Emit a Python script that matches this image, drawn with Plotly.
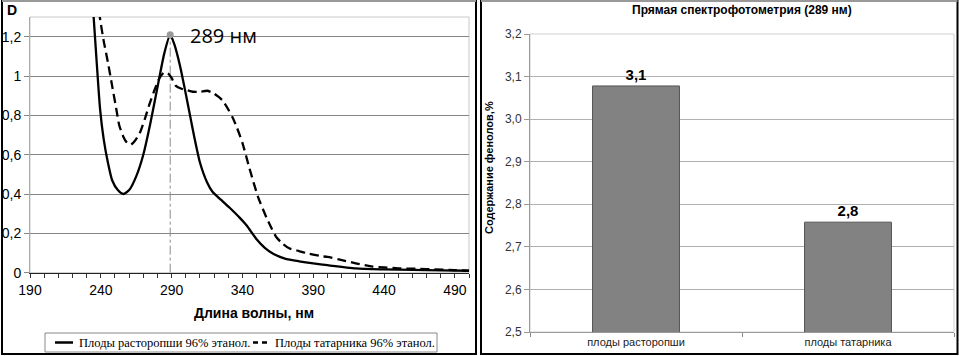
import plotly.graph_objects as go

W, H = 959, 356

# ---------------- data ----------------
wl_milk = [234, 237, 239.5, 242, 245, 248, 252, 256, 260, 265, 270, 275, 281, 285, 289, 292, 296,
           300, 303, 306, 310, 315, 319, 325, 331, 338, 343, 350, 356, 362, 370, 380, 390,
           400, 420, 440, 460, 480, 500]
d_milk = [1.40, 1.08, 0.83, 0.68, 0.56, 0.47, 0.42, 0.40, 0.42, 0.49, 0.60, 0.76, 0.98, 1.12, 1.21, 1.16, 1.05,
          0.91, 0.80, 0.69, 0.56, 0.46, 0.41, 0.37, 0.33, 0.28, 0.24, 0.17, 0.125, 0.095, 0.072, 0.058, 0.047,
          0.038, 0.022, 0.017, 0.014, 0.012, 0.010]

wl_tat = [238, 239.3, 242, 245, 248, 251, 253, 256, 258, 261, 264, 267.5, 271, 274.5, 278, 281.5,
          285, 288, 290, 293, 297, 300, 305, 310, 315, 319, 323, 326, 330, 333, 336, 340, 345,
          351, 357, 361, 364, 368, 373, 380, 385, 395, 400, 408, 420, 432, 440, 450, 465, 474, 490, 500]
d_tat = [1.40, 1.30, 1.18, 1.07, 0.95, 0.83, 0.75, 0.69, 0.665, 0.65, 0.67, 0.71, 0.78, 0.86, 0.93, 0.99,
         1.02, 1.01, 0.99, 0.95, 0.935, 0.93, 0.92, 0.92, 0.925, 0.915, 0.895, 0.875, 0.83, 0.79, 0.74, 0.66, 0.53,
         0.386, 0.28, 0.22, 0.18, 0.15, 0.124, 0.11, 0.10, 0.085, 0.08, 0.068, 0.048, 0.031, 0.027, 0.022, 0.020, 0.017, 0.013, 0.010]

peak_wl = 289
peak_d = 1.21
peak_label = "289 нм"

series_names = ["Плоды расторопши 96% этанол.", "Плоды татарника 96% этанол."]

bar_categories = ["плоды расторопши", "плоды татарника"]
bar_values = [3.078, 2.758]
bar_labels = ["3,1", "2,8"]

x_title = "Длина волны, нм"
y_label_left = "D"
bar_title = "Прямая спектрофотометрия (289 нм)"
bar_ytitle = "Содержание фенолов,%"


def px(x):
    return x / W


def py(y):
    return 1 - y / H


fig = go.Figure()

# ---------------- left: spectra ----------------
fig.add_trace(go.Scatter(x=[peak_wl, peak_wl], y=[0, peak_d], mode="lines",
                         line=dict(color="#8a8a8a", width=1, dash="dashdot"),
                         showlegend=False, hoverinfo="skip", xaxis="x", yaxis="y"))
fig.add_trace(go.Scatter(x=wl_milk, y=d_milk, mode="lines", name=series_names[0],
                         line=dict(color="black", width=2.3, shape="spline", smoothing=0.6),
                         showlegend=False, xaxis="x", yaxis="y"))
fig.add_trace(go.Scatter(x=wl_tat, y=d_tat, mode="lines", name=series_names[1],
                         line=dict(color="black", width=2.3, dash="9px,5px", shape="spline", smoothing=0.6),
                         showlegend=False, xaxis="x", yaxis="y"))
fig.add_trace(go.Scatter(x=[peak_wl], y=[peak_d], mode="markers",
                         marker=dict(color="#999999", size=7),
                         showlegend=False, hoverinfo="skip", cliponaxis=False,
                         xaxis="x", yaxis="y"))

# ---------------- right: bars ----------------
fig.add_trace(go.Bar(x=bar_categories, y=bar_values, text=bar_labels, textposition="outside",
                     textfont=dict(family="Liberation Sans", size=15, color="black"),
                     texttemplate="<b>%{text}</b>",
                     marker=dict(color="#828282", line=dict(color="#555555", width=1)),
                     showlegend=False, cliponaxis=False, xaxis="x2", yaxis="y2"))

L = dict(l=30, r=469, t=17, b=272.7)
R = dict(l=530, r=954, t=34, b=332)

fig.update_layout(
    width=W, height=H, margin=dict(l=0, r=0, t=0, b=0, pad=0, autoexpand=False),
    paper_bgcolor="white", plot_bgcolor="white",
    separators=", ",
    showlegend=False,
    font=dict(family="Liberation Sans", color="black"),
    bargap=0.59,
    xaxis=dict(domain=[px(L["l"]), px(L["r"])], anchor="y", range=[190, 500], automargin=False,
               tick0=190, dtick=50, ticks="outside", ticklen=4, tickcolor="#333",
               minor=dict(dtick=10, ticks="outside", ticklen=4, tickcolor="#333"),
               showline=True, linecolor="#222", linewidth=1.2, showgrid=False, zeroline=False,
               tickfont=dict(size=14, color="black")),
    yaxis=dict(domain=[py(L["b"]), py(L["t"])], anchor="x", range=[0, 1.3], dtick=0.2, automargin=False,
               ticks="outside", ticklen=5, tickcolor="#888", showline=True, linecolor="#aaa",
               showgrid=True, gridcolor="#858585", gridwidth=1, zeroline=False,
               tickfont=dict(size=14, color="black")),
    xaxis2=dict(domain=[px(R["l"]), px(R["r"])], anchor="y2", type="category", automargin=False,
                ticks="outside", tickson="boundaries", ticklen=4, tickcolor="#888",
                showline=True, linecolor="#999", showgrid=False,
                tickfont=dict(size=11, color="#222")),
    yaxis2=dict(domain=[py(R["b"]), py(R["t"])], anchor="x2", range=[2.5, 3.2], dtick=0.1, automargin=False,
                tickformat=".1f", ticks="outside", ticklen=5, tickcolor="#999",
                showline=True, linecolor="#999", showgrid=True, gridcolor="#b0b0b0",
                zeroline=False, tickfont=dict(size=12, color="#333")),
)

# legend box geometry (pixels)
LG = dict(x0=45, x1=437, y0=333, y1=352, ym=342.5)
LS = [dict(a=55, b=73, tx=77, dash="solid"), dict(a=253, b=268, tx=273, dash="5px,4px")]

shapes = [
    dict(type="rect", xref="x domain", yref="y domain", x0=0, x1=1, y0=0, y1=1,
         line=dict(color="#c8c8c8", width=1), layer="below"),
    dict(type="rect", xref="x2 domain", yref="y2 domain", x0=0, x1=1, y0=0, y1=1,
         line=dict(color="#d0d0d0", width=1), layer="below"),
    dict(type="rect", xref="paper", yref="paper", x0=px(2), x1=px(476), y0=py(354), y1=py(1),
         line=dict(color="black", width=2)),
    dict(type="rect", xref="paper", yref="paper", x0=px(481), x1=px(957.5), y0=py(354), y1=py(1),
         line=dict(color="black", width=2)),
    dict(type="line", xref="paper", yref="paper", x0=px(2), x1=px(476), y0=py(1), y1=py(1),
         line=dict(color="#999", width=2)),
    dict(type="line", xref="paper", yref="paper", x0=px(481), x1=px(957.5), y0=py(1), y1=py(1),
         line=dict(color="#999", width=2)),
    dict(type="rect", xref="paper", yref="paper", x0=px(LG["x0"]), x1=px(LG["x1"]),
         y0=py(LG["y1"]), y1=py(LG["y0"]), line=dict(color="#888", width=1), fillcolor="white"),
]
for s in LS:
    shapes.append(dict(type="line", xref="paper", yref="paper", x0=px(s["a"]), x1=px(s["b"]),
                       y0=py(LG["ym"]), y1=py(LG["ym"]), line=dict(color="black", width=2.5, dash=s["dash"])))
fig.update_layout(shapes=shapes)

annotations = [
    dict(text=peak_label, x=peak_wl, y=peak_d, xref="x", yref="y", xanchor="left", yanchor="middle",
         xshift=18, yshift=-1, showarrow=False, font=dict(family="Open Sans", size=20, color="black")),
    dict(text="<b>" + y_label_left + "</b>", x=px(5), y=py(10), xref="paper", yref="paper",
         xanchor="left", yanchor="middle", showarrow=False, font=dict(size=14)),
    dict(text="<b>" + x_title + "</b>", x=px(254), y=py(313), xref="paper", yref="paper",
         xanchor="center", yanchor="middle", showarrow=False, font=dict(size=14)),
    dict(text="<b>" + bar_title + "</b>", x=px(742), y=py(10), xref="paper", yref="paper",
         xanchor="center", yanchor="middle", showarrow=False, font=dict(size=12)),
    dict(text="<b>" + bar_ytitle + "</b>", x=px(489), y=py(168), xref="paper", yref="paper",
         xanchor="center", yanchor="middle", showarrow=False, textangle=-90, font=dict(size=11)),
]
for i, s in enumerate(LS):
    annotations.append(dict(text=series_names[i], x=px(s["tx"]), y=py(LG["ym"]), xref="paper", yref="paper",
                            xanchor="left", yanchor="middle", showarrow=False,
                            font=dict(family="Liberation Serif", size=12.5, color="black")))
fig.update_layout(annotations=annotations)

fig.write_html("out.html", config={"displayModeBar": False},
               post_script="document.body.style.margin='0px';document.body.style.overflow='hidden';")
